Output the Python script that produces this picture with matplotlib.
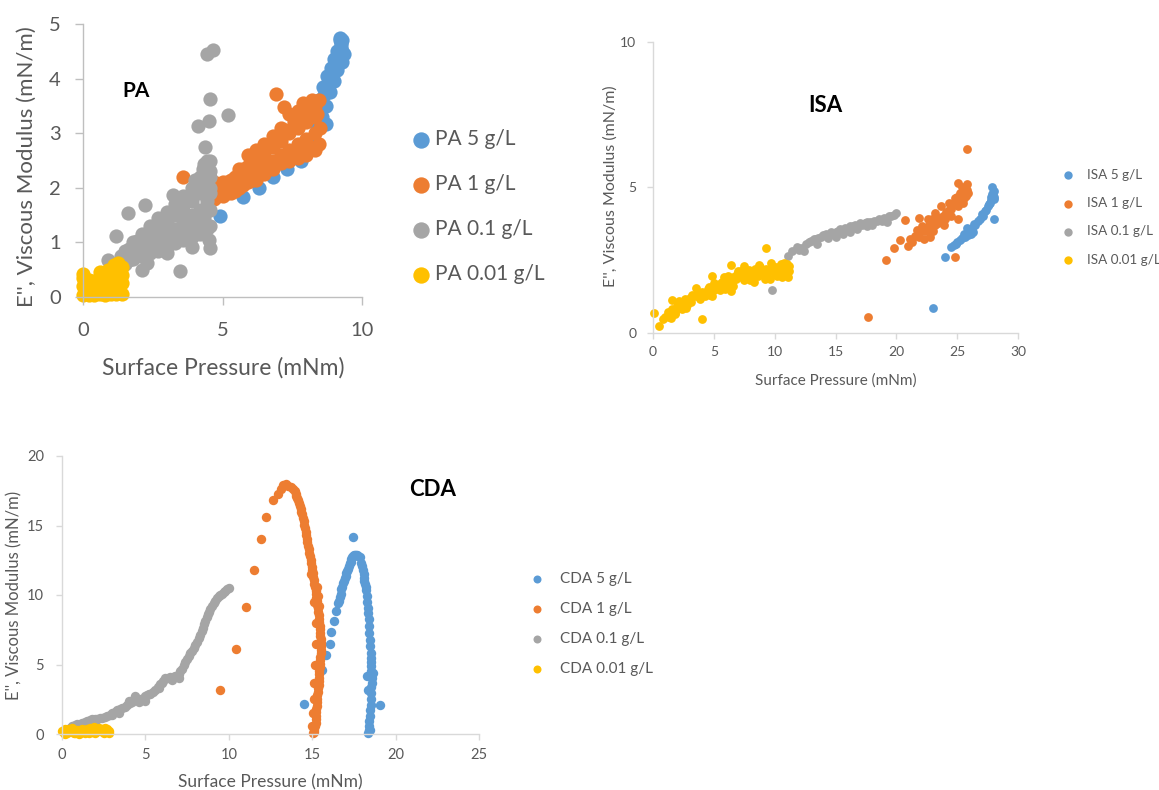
import matplotlib
matplotlib.use("Agg")
import matplotlib.pyplot as plt

plt.rcParams['font.family'] = ['Lato', 'DejaVu Sans']

C_BLUE = '#5B9BD5'
C_ORANGE = '#ED7D31'
C_GRAY = '#A5A5A5'
C_YELLOW = '#FFC000'
TXT = '#595959'

# ---------------- PA data ----------------
pa5_x = [4.9, 5.75, 6.3, 6.8, 7.3, 7.8, 8.3, 8.45, 8.6, 8.75, 8.9, 9.0, 9.1, 9.2,
         8.55, 8.7, 8.85, 9.0, 9.1, 9.2, 9.3, 9.35, 9.2, 8.72, 8.4, 8.2, 9.25, 9.3,
         8.5, 8.65, 8.8, 8.95, 9.05, 9.15, 9.25, 8.4, 9.3]
pa5_y = [1.48, 1.83, 2.0, 2.2, 2.35, 2.5, 3.35, 3.6, 3.85, 4.05, 4.2, 4.35, 4.5, 4.7,
         3.3, 3.5, 3.75, 3.95, 4.15, 4.35, 4.5, 4.45, 4.75, 3.17, 3.1, 2.9, 4.65, 4.3,
         3.45, 3.7, 3.9, 4.1, 4.25, 4.4, 4.6, 3.3, 4.7]

pa1_x = [4.7, 5.0, 5.3, 5.6, 5.9, 6.2, 6.5, 6.8, 7.1, 7.4, 7.7, 8.0, 8.3,
         4.7, 5.0, 5.3, 5.6, 5.9, 6.2, 6.5, 6.8, 7.1, 7.4, 7.7, 8.0, 8.3,
         4.7, 5.0, 5.3, 5.6, 5.9, 6.2, 6.5, 6.8, 7.1, 7.4, 7.7, 8.0, 8.3,
         4.7, 5.0, 5.3, 5.6, 5.9, 6.2, 6.5, 6.8, 7.1, 7.4, 7.7, 8.0, 8.3,
         4.85, 5.15, 5.45, 5.75, 6.05, 6.35, 6.65, 6.95, 7.25, 7.55, 7.85, 8.15,
         4.85, 5.15, 5.45, 5.75, 6.05, 6.35, 6.65, 6.95, 7.25, 7.55, 7.85, 8.15,
         6.9, 7.2, 3.6, 8.45, 8.5, 8.2, 7.9, 4.3, 3.8, 8.45, 8.4]
pa1_y = [2.1, 2.1, 2.15, 2.35, 2.6, 2.7, 2.8, 2.95, 3.1, 3.35, 3.4, 3.45, 3.5,
         1.95, 2.0, 2.05, 2.2, 2.4, 2.5, 2.6, 2.75, 2.85, 3.0, 3.1, 3.2, 3.3,
         1.85, 1.9, 1.95, 2.05, 2.2, 2.3, 2.4, 2.5, 2.6, 2.7, 2.8, 2.9, 3.0,
         1.8, 1.85, 1.9, 2.0, 2.1, 2.15, 2.25, 2.35, 2.45, 2.5, 2.55, 2.6, 2.7,
         2.05, 2.1, 2.2, 2.35, 2.55, 2.65, 2.75, 2.9, 3.05, 3.2, 3.3, 3.4,
         1.85, 1.9, 1.95, 2.05, 2.15, 2.25, 2.35, 2.45, 2.55, 2.6, 2.7, 2.75,
         3.72, 3.48, 2.2, 3.6, 3.1, 3.6, 3.55, 1.5, 1.3, 2.8, 3.35]

pa01_x = [1.5, 1.8, 2.1, 2.4, 2.7, 3.0, 3.3, 3.6, 3.9, 4.2, 4.45,
          1.5, 1.8, 2.1, 2.4, 2.7, 3.0, 3.3, 3.6, 3.9, 4.2, 4.45,
          1.5, 1.8, 2.1, 2.4, 2.7, 3.0, 3.3, 3.6, 3.9, 4.2, 4.45,
          1.5, 1.8, 2.1, 2.4, 2.7, 3.0, 3.3, 3.6, 3.9, 4.2, 4.45,
          1.65, 1.95, 2.25, 2.55, 2.85, 3.15, 3.45, 3.75, 4.05, 4.35,
          1.65, 1.95, 2.25, 2.55, 2.85, 3.15, 3.45, 3.75, 4.05, 4.35,
          4.55, 4.55, 4.55, 4.55, 4.55, 4.3, 4.45, 4.0, 4.55, 4.55,
          4.43, 4.67, 4.55, 5.2, 4.13, 4.52, 4.37, 3.48, 2.1, 4.55, 1.62, 1.2,
          0.9, 2.22, 3.24, 4.32, 2.3, 3.9, 4.5, 1.35, 3.0]
pa01_y = [0.85, 1.0, 1.15, 1.3, 1.45, 1.55, 1.7, 1.85, 2.0, 2.2, 2.4,
          0.75, 0.9, 1.0, 1.1, 1.25, 1.35, 1.5, 1.6, 1.75, 1.9, 2.1,
          0.65, 0.75, 0.85, 0.95, 1.05, 1.15, 1.25, 1.4, 1.5, 1.6, 1.75,
          0.6, 0.7, 0.75, 0.8, 0.85, 0.92, 0.98, 1.05, 1.1, 1.15, 1.25,
          0.88, 1.02, 1.15, 1.27, 1.4, 1.5, 1.63, 1.78, 1.93, 2.1,
          0.68, 0.76, 0.83, 0.9, 0.98, 1.06, 1.15, 1.25, 1.33, 1.45,
          1.3, 1.6, 1.9, 2.2, 2.5, 2.35, 2.5, 2.15, 2.3, 2.0,
          4.45, 4.52, 3.63, 3.34, 3.14, 3.23, 2.74, 0.48, 0.49, 0.89, 1.54, 1.11,
          0.67, 1.68, 1.86, 2.44, 0.62, 0.92, 1.05, 0.75, 0.8]

pa001_x = [0.0, 0.2, 0.4, 0.6, 0.8, 1.0, 1.2, 1.4,
           0.0, 0.2, 0.4, 0.6, 0.8, 1.0, 1.2, 1.4,
           0.0, 0.2, 0.4, 0.6, 0.8, 1.0, 1.2, 1.4,
           0.1, 0.3, 0.5, 0.7, 0.9, 1.1, 1.3,
           0.0, 0.6, 0.9, 1.1, 1.25, 1.4, 1.3]
pa001_y = [0.04, 0.04, 0.03, 0.05, 0.04, 0.06, 0.05, 0.06,
           0.2, 0.18, 0.2, 0.22, 0.2, 0.2, 0.22, 0.25,
           0.35, 0.32, 0.3, 0.35, 0.38, 0.4, 0.38, 0.4,
           0.12, 0.28, 0.12, 0.3, 0.14, 0.3, 0.15,
           0.42, 0.45, 0.5, 0.58, 0.62, 0.55, 0.48]

# ---------------- ISA data ----------------
isa5_x = [23.0, 24.04, 28.0, 24.47, 25.66, 26.4, 27.0, 27.6, 27.9, 28.05, 25.8, 25.2,
          26.7, 27.3, 27.75, 24.9, 26.1, 27.85, 28.0,
          24.7, 25.0, 25.4, 25.6, 26.0, 26.2, 26.5, 26.9, 27.1, 27.4, 27.5, 27.7, 27.8,
          27.95, 28.0, 26.3, 25.9]
isa5_y = [0.84, 2.6, 3.91, 2.94, 3.28, 3.74, 4.08, 4.42, 4.99, 4.65, 3.6, 3.17,
          3.85, 4.19, 4.54, 3.05, 3.39, 4.77, 4.88,
          3.0, 3.1, 3.25, 3.4, 3.5, 3.6, 3.7, 3.9, 4.0, 4.2, 4.35, 4.45, 4.65,
          4.8, 4.6, 3.45, 3.35]

isa1_x = [17.68, 19.11, 19.82, 20.29, 20.7, 20.97, 24.81, 25.08, 25.77,
          21.5, 22.1, 22.3, 21.9, 22.6, 23.0, 23.2, 23.7, 24.0, 24.3, 24.5, 24.8, 25.2,
          25.1, 25.5, 25.77, 25.9, 25.5, 25.1, 25.6, 23.4, 22.9, 21.7, 21.1,
          21.3, 21.9, 22.4, 22.7, 23.2, 23.5, 23.8, 24.1, 24.3, 24.6, 24.9, 25.0, 25.3,
          25.4, 25.7, 25.8, 24.5, 23.9, 22.8, 22.1]
isa1_y = [0.55, 2.48, 2.91, 3.17, 3.86, 2.99, 2.6, 3.89, 6.3,
          3.31, 3.66, 3.2, 3.94, 3.89, 3.48, 4.11, 4.34, 3.89, 4.46, 4.23, 4.63, 4.8,
          5.15, 4.92, 5.09, 4.8, 4.46, 4.34, 4.63, 3.77, 3.89, 3.54, 3.2,
          3.1, 3.3, 3.5, 3.7, 3.7, 3.95, 4.0, 4.15, 4.2, 4.4, 4.5, 4.65, 4.7,
          5.0, 4.7, 4.9, 4.0, 3.7, 3.3, 3.5]

isa01_x = [9.74, 11.1, 11.8, 12.2, 12.6, 13.0, 13.4, 13.8, 14.2, 14.6, 15.0, 15.4, 15.8,
           16.2, 16.6, 17.0, 17.4, 17.8, 18.2, 18.6, 19.0, 19.4, 19.8, 20.0,
           13.5, 14.4, 15.6, 16.8, 18.0, 19.2, 12.4,
           11.4, 12.0, 12.8, 13.2, 13.6, 14.0, 14.8, 15.2, 16.0, 16.4, 17.2, 17.6, 18.4,
           18.8, 19.6, 15.0, 16.2, 17.6]
isa01_y = [1.47, 2.64, 2.93, 2.9, 3.05, 3.15, 3.2, 3.3, 3.4, 3.45, 3.45, 3.55, 3.6,
           3.65, 3.7, 3.75, 3.75, 3.8, 3.85, 3.9, 3.95, 4.0, 4.05, 4.1,
           3.05, 3.25, 3.4, 3.55, 3.7, 3.8, 2.8,
           2.8, 2.85, 3.1, 3.2, 3.25, 3.35, 3.4, 3.5, 3.55, 3.65, 3.7, 3.8, 3.85,
           3.85, 4.0, 3.3, 3.45, 3.65]

isa001_x = [0.05, 0.47, 1.0, 1.3, 1.57, 1.84, 2.1, 2.4, 2.8, 3.1, 3.35, 3.5, 3.8, 4.04,
            4.2, 4.5, 4.86, 4.86, 5.2, 5.55, 5.8, 6.1, 6.37, 6.37, 6.6, 6.9, 7.2, 7.47,
            7.7, 8.0, 8.2, 8.5, 8.7, 8.9, 9.26, 9.4, 9.67, 9.9, 10.2, 10.4, 10.6, 10.77,
            11.04, 11.18, 11.1, 10.9, 9.6, 7.5, 5.5, 3.0, 2.2, 1.5, 0.8,
            1.2, 1.6, 2.0, 2.4, 2.6, 3.0, 3.2, 3.6, 4.0, 4.3, 4.6, 5.0, 5.0, 5.4, 5.7,
            6.0, 6.2, 6.5, 6.8, 7.0, 7.3, 7.6, 7.9, 8.1, 8.4, 8.6, 8.8, 9.1, 9.3, 9.5,
            9.8, 10.0, 10.1, 10.3, 10.5, 10.7, 10.9, 11.0, 11.2, 10.6, 9.2, 8.3, 6.6,
            5.9, 4.7, 3.9, 2.7, 1.8]
isa001_y = [0.67, 0.23, 0.55, 0.55, 1.13, 0.67, 1.1, 0.8, 0.95, 1.05, 1.24, 1.53, 1.35, 0.46,
            1.36, 1.5, 1.93, 1.24, 1.6, 1.7, 1.9, 1.75, 2.33, 1.41, 1.9, 2.0, 2.1, 2.28,
            1.95, 1.82, 2.1, 2.0, 2.33, 2.1, 2.91, 2.0, 2.39, 2.15, 1.93, 2.25, 2.05, 2.39,
            2.05, 2.28, 1.9, 2.2, 1.85, 1.8, 1.45, 1.2, 0.85, 0.5, 0.45,
            0.7, 0.8, 0.9, 1.0, 1.15, 1.1, 1.3, 1.25, 1.4, 1.25, 1.55, 1.45, 1.7, 1.6, 1.75,
            1.6, 1.95, 1.75, 1.85, 2.1, 1.9, 2.05, 2.15, 1.9, 2.2, 1.95, 2.25, 2.0, 2.2, 2.1,
            2.3, 2.0, 2.25, 2.1, 2.35, 2.15, 2.0, 2.35, 2.1, 1.9, 1.85, 1.75, 1.6,
            1.5, 1.3, 1.15, 0.85, 0.65]

# ---------------- CDA data ----------------
cda5_x = [14.5, 19.08, 17.45, 15.6, 15.85, 16.05, 16.15, 16.3, 16.45, 16.55, 16.65, 16.75,
          16.85, 16.95, 17.05, 17.15, 17.25, 17.35, 17.45, 17.55, 17.65, 17.75, 17.85,
          17.95, 18.05, 18.1, 18.15, 18.25, 18.3, 18.35, 18.4, 18.45, 18.5, 18.55, 18.65,
          18.6, 18.55, 18.5, 18.45, 18.4, 18.35, 18.45, 18.3, 18.35, 18.5,
          18.0, 18.08, 18.12, 18.2, 18.28, 18.32, 18.38, 18.42, 18.48, 18.52, 18.55,
          18.58, 18.55, 18.52, 18.48, 18.42, 18.38, 17.5, 17.4, 17.7, 17.3, 17.2, 17.1,
          17.0, 16.9, 16.8, 16.7, 16.6]
cda5_y = [2.18, 2.08, 14.14, 4.6, 5.65, 6.5, 7.37, 8.13, 8.88, 9.4, 9.88, 10.4,
          10.84, 11.2, 11.55, 11.9, 12.27, 12.6, 12.8, 12.87, 12.85, 12.8, 12.75,
          12.3, 11.8, 11.2, 10.8, 10.36, 9.5, 8.7, 7.8, 6.77, 5.8, 4.86, 4.4,
          3.7, 2.94, 2.1, 1.27, 0.6, 0.07, 0.3, 4.2, 3.2, 5.2,
          12.1, 11.5, 11.0, 10.6, 9.9, 9.1, 8.3, 7.3, 6.3, 5.5, 4.5,
          4.0, 3.4, 2.5, 1.7, 0.9, 0.3, 12.9, 12.7, 12.9, 12.4, 12.1, 11.7,
          11.4, 11.0, 10.6, 10.1, 9.6]

cda1_x = [9.46, 10.46, 11.06, 11.5, 11.96, 12.26, 12.65,
          12.95, 13.1, 13.25, 13.4, 13.55, 13.7, 13.85, 14.0, 14.1, 14.2, 14.3, 14.4, 14.5,
          14.55, 14.65, 14.7, 14.8, 14.85, 14.95, 15.0, 15.05, 15.1, 15.2, 15.25, 15.3, 15.35,
          15.4, 15.45, 15.45, 15.5, 15.5, 15.5, 15.45, 15.45, 15.4, 15.4, 15.35, 15.3, 15.3,
          15.25, 15.2, 15.2, 15.1, 15.05,
          15.1, 15.15, 15.1, 15.05, 15.2, 15.2, 15.1, 15.0, 14.9,
          13.95, 14.05, 14.15, 14.25, 14.35, 14.45, 14.5, 14.6, 14.68, 14.75, 14.82, 14.9,
          14.98, 15.03, 15.08, 15.15, 15.22, 15.28, 15.32, 15.38, 15.42, 15.45, 15.48, 15.5,
          15.5, 15.48, 15.45, 15.42, 15.4, 15.38, 15.32, 15.3, 15.28, 15.22, 15.2, 15.15,
          15.1, 15.3, 15.35, 15.4]
cda1_y = [3.13, 6.12, 9.16, 11.8, 14.0, 15.6, 16.8,
          17.3, 17.6, 17.9, 17.95, 17.85, 17.75, 17.6, 17.3, 17.0, 16.6, 16.2, 15.8, 15.3,
          14.8, 14.3, 13.8, 13.3, 12.8, 12.3, 11.8, 11.3, 10.8, 10.3, 9.8, 9.3, 8.8,
          8.3, 7.8, 7.3, 6.8, 6.3, 5.8, 5.3, 4.8, 4.3, 3.8, 3.3, 2.8, 2.3,
          1.8, 1.3, 0.8, 0.3, 0.05,
          3.7, 5.0, 2.5, 1.5, 6.5, 8.0, 9.5, 0.6, 11.5,
          17.45, 17.15, 16.8, 16.4, 16.0, 15.55, 15.05, 14.55, 14.05, 13.55, 13.05, 12.55,
          12.05, 11.55, 11.05, 10.55, 10.05, 9.55, 9.05, 8.55, 8.05, 7.55, 7.05, 6.55,
          6.05, 5.55, 5.05, 4.55, 4.05, 3.55, 3.05, 2.55, 2.05, 1.55, 1.05, 0.55,
          0.15, 10.6, 9.9, 9.2]

cda01_x = [0.3, 0.6, 0.9, 1.2, 1.5, 1.8, 2.1, 2.4, 2.7, 3.0, 3.3, 3.6, 3.9, 4.2, 4.4, 4.6,
           4.9, 5.1, 5.3, 5.6, 5.9, 6.2, 6.5, 6.8, 7.0, 7.2, 7.4, 7.6, 7.8, 8.0, 8.2, 8.4,
           8.5, 8.7, 8.8, 9.0, 9.2, 9.4, 9.6, 9.8, 10.0, 2.0, 4.0, 6.0, 5.0, 3.4, 1.0,
           0.45, 0.75, 1.05, 1.35, 1.65, 1.95, 2.25, 2.55, 2.85, 3.15, 3.45, 3.75, 4.05,
           4.3, 4.75, 5.0, 5.2, 5.45, 5.75, 6.05, 6.35, 6.65, 6.9, 7.1, 7.3, 7.5, 7.7,
           7.9, 8.1, 8.3, 8.45, 8.6, 8.75, 8.9, 9.1, 9.3, 9.5, 9.7, 9.9, 5.8, 6.6, 7.0,
           4.6, 3.0]
cda01_y = [0.3, 0.6, 0.7, 0.8, 0.95, 1.05, 1.1, 1.15, 1.3, 1.5, 1.7, 1.85, 2.1, 2.3, 2.7, 2.5,
           2.6, 2.8, 2.9, 3.2, 3.6, 4.0, 4.1, 4.15, 4.3, 4.7, 5.2, 5.6, 6.0, 6.4, 6.9, 7.4,
           7.9, 8.4, 8.8, 9.2, 9.6, 9.9, 10.1, 10.3, 10.5, 0.8, 2.4, 3.7, 2.4, 1.5, 0.5,
           0.45, 0.65, 0.75, 0.88, 1.0, 1.08, 1.12, 1.22, 1.4, 1.6, 1.78, 1.95, 2.2,
           2.5, 2.55, 2.7, 2.85, 3.05, 3.4, 3.8, 4.05, 4.12, 4.2, 4.5, 4.95, 5.4, 5.8,
           6.2, 6.65, 7.15, 7.65, 8.15, 8.6, 9.0, 9.4, 9.75, 10.0, 10.2, 10.4, 3.3, 3.9, 4.05,
           2.3, 1.35]

cda001_x = [0.1, 0.3, 0.5, 0.7, 0.9, 1.1, 1.3, 1.5, 1.7, 1.9, 2.1, 2.3, 2.5, 2.7, 0.2, 1.0,
            2.0, 2.6, 0.6, 1.6, 2.8, 0.0, 0.4, 0.8, 1.2, 1.4, 1.8, 2.2, 2.4, 2.8, 0.15, 1.9]
cda001_y = [0.1, 0.05, 0.2, 0.1, 0.3, 0.1, 0.2, 0.35, 0.4, 0.5, 0.3, 0.2, 0.1, 0.35, 0.35, 0.0,
            0.05, 0.45, 0.4, 0.1, 0.2, 0.2, 0.35, 0.05, 0.35, 0.05, 0.15, 0.45, 0.35, 0.05,
            0.0, 0.3]

PA_LABELS = ['PA 5 g/L', 'PA 1 g/L', 'PA 0.1 g/L', 'PA 0.01 g/L']
ISA_LABELS = ['ISA 5 g/L', 'ISA 1 g/L', 'ISA 0.1 g/L', 'ISA 0.01 g/L']
CDA_LABELS = ['CDA 5 g/L', 'CDA 1 g/L', 'CDA 0.1 g/L', 'CDA 0.01 g/L']
COLORS = [C_BLUE, C_ORANGE, C_GRAY, C_YELLOW]

W, H = 1159, 790
fig = plt.figure(figsize=(W / 100, H / 100), dpi=100)


def add_ax(x0, y0, x1, y1):
    return fig.add_axes([x0 / W, 1 - y1 / H, (x1 - x0) / W, (y1 - y0) / H])


def style(ax, xmax, ymax, xt, yt, fs, spine_c, tlen, xpad, ypad):
    ax.set_xlim(0, xmax)
    ax.set_ylim(0, ymax)
    ax.set_xticks(xt)
    ax.set_yticks(yt)
    for s in ['top', 'right']:
        ax.spines[s].set_visible(False)
    for s in ['left', 'bottom']:
        ax.spines[s].set_color(spine_c)
        ax.spines[s].set_linewidth(1.0)
    ax.tick_params(axis='both', direction='out', length=tlen, width=1.0,
                   color=spine_c, labelcolor=TXT, labelsize=fs)
    ax.tick_params(axis='x', pad=xpad)
    ax.tick_params(axis='y', pad=ypad)
    ax.set_facecolor('none')


def px(x, y):
    return x / W, 1 - y / H


# ---------------- PA panel ----------------
ax1 = add_ax(83, 24, 362, 297)
series = [(pa5_x, pa5_y), (pa1_x, pa1_y), (pa01_x, pa01_y), (pa001_x, pa001_y)]
h1 = []
for (xs, ys), c, lab in zip(series, COLORS, PA_LABELS):
    h1.append(ax1.scatter(xs, ys, s=105, color=c, linewidths=0, label=lab, clip_on=False))
style(ax1, 10, 5, [0, 5, 10], [0, 1, 2, 3, 4, 5], 14.5, '#BFBFBF', 6, 12, 10)
fig.text(*px(223, 368), 'Surface Pressure (mNm)', ha='center', va='center',
         fontsize=16.5, color=TXT)
fig.text(*px(27, 167), "E'', Viscous Modulus (mN/m)", ha='center', va='center',
         rotation=90, fontsize=16, color=TXT)
fig.text(*px(136, 91), 'PA', ha='center', va='center', fontsize=15,
         fontweight='bold', color='black')
ax1.legend(handles=h1, loc='upper left', bbox_to_anchor=px(413, 129),
           bbox_transform=fig.transFigure, frameon=False, borderpad=0,
           borderaxespad=0, handlelength=0.8, handletextpad=0.25,
           labelspacing=1.2, markerscale=1.15, scatterpoints=1,
           prop={'size': 15}, labelcolor=TXT)

# ---------------- ISA panel ----------------
ax2 = add_ax(653, 41.7, 1018, 332.5)
series = [(isa5_x, isa5_y), (isa1_x, isa1_y), (isa01_x, isa01_y), (isa001_x, isa001_y)]
h2 = []
for (xs, ys), c, lab in zip(series, COLORS, ISA_LABELS):
    h2.append(ax2.scatter(xs, ys, s=40, color=c, linewidths=0, label=lab, clip_on=False))
style(ax2, 30, 10, [0, 5, 10, 15, 20, 25, 30], [0, 5, 10], 10, '#D9D9D9', 4, 6, 8)
fig.text(*px(836, 381), 'Surface Pressure (mNm)', ha='center', va='center',
         fontsize=11, color=TXT)
fig.text(*px(611, 186), "E'', Viscous Modulus (mN/m)", ha='center', va='center',
         rotation=90, fontsize=11.5, color=TXT)
fig.text(*px(825, 105), 'ISA', ha='center', va='center', fontsize=16,
         fontweight='bold', color='black')
ax2.legend(handles=h2, loc='upper left', bbox_to_anchor=px(1062.5, 169),
           bbox_transform=fig.transFigure, frameon=False, borderpad=0,
           borderaxespad=0, handlelength=0.8, handletextpad=1.0,
           labelspacing=1.2, markerscale=0.95, scatterpoints=1,
           prop={'size': 9.7}, labelcolor=TXT)

# ---------------- CDA panel ----------------
ax3 = add_ax(62, 456, 479, 734)
series = [(cda5_x, cda5_y), (cda1_x, cda1_y), (cda01_x, cda01_y), (cda001_x, cda001_y)]
h3 = []
for (xs, ys), c, lab in zip(series, COLORS, CDA_LABELS):
    h3.append(ax3.scatter(xs, ys, s=46, color=c, linewidths=0, label=lab, clip_on=False))
style(ax3, 25, 20, [0, 5, 10, 15, 20, 25], [0, 5, 10, 15, 20], 10.5, '#D9D9D9', 4, 6, 9)
fig.text(*px(270, 782), 'Surface Pressure (mNm)', ha='center', va='center',
         fontsize=12.5, color=TXT)
fig.text(*px(14, 595), "E'', Viscous Modulus (mN/m)", ha='center', va='center',
         rotation=90, fontsize=12, color=TXT)
fig.text(*px(433, 490), 'CDA', ha='center', va='center', fontsize=16,
         fontweight='bold', color='black')
ax3.legend(handles=h3, loc='upper left', bbox_to_anchor=px(531, 572),
           bbox_transform=fig.transFigure, frameon=False, borderpad=0,
           borderaxespad=0, handlelength=0.8, handletextpad=1.1,
           labelspacing=1.05, markerscale=0.85, scatterpoints=1,
           prop={'size': 11}, labelcolor=TXT)

fig.savefig('out.png', dpi=100, facecolor='white')
